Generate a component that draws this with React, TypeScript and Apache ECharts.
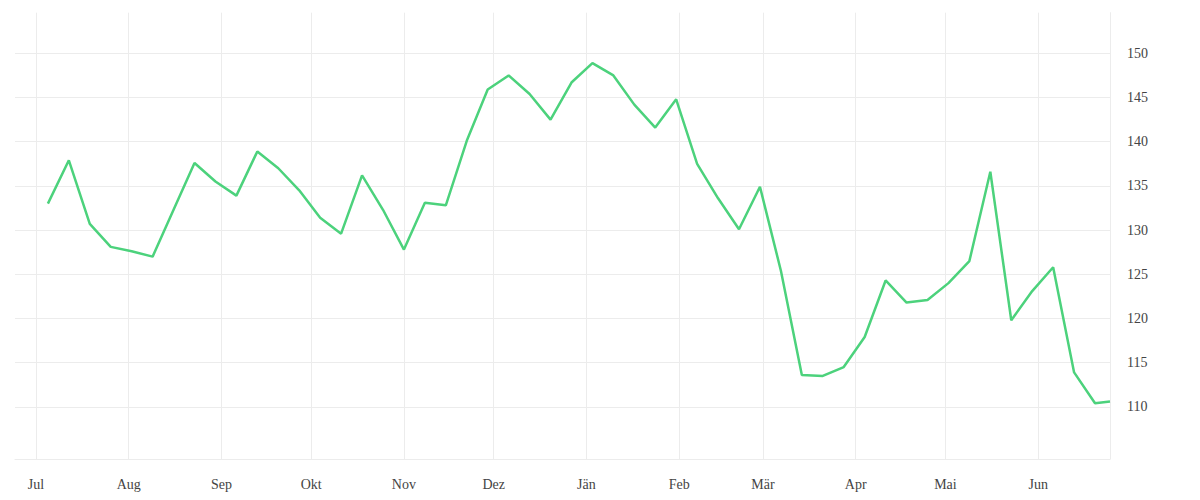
import React, { useEffect, useRef } from "react";
import * as echarts from "echarts";

const dates = [
  "2018-07-05", "2018-07-12", "2018-07-19", "2018-07-26",
  "2018-08-02", "2018-08-09", "2018-08-16", "2018-08-23", "2018-08-30",
  "2018-09-06", "2018-09-13", "2018-09-20", "2018-09-27",
  "2018-10-04", "2018-10-11", "2018-10-18", "2018-10-25",
  "2018-11-01", "2018-11-08", "2018-11-15", "2018-11-22", "2018-11-29",
  "2018-12-06", "2018-12-13", "2018-12-20", "2018-12-27",
  "2019-01-03", "2019-01-10", "2019-01-17", "2019-01-24", "2019-01-31",
  "2019-02-07", "2019-02-14", "2019-02-21", "2019-02-28",
  "2019-03-07", "2019-03-14", "2019-03-21", "2019-03-28",
  "2019-04-04", "2019-04-11", "2019-04-18", "2019-04-25",
  "2019-05-02", "2019-05-09", "2019-05-16", "2019-05-23", "2019-05-30",
  "2019-06-06", "2019-06-13", "2019-06-20", "2019-06-25",
];

const values = [
  133.0, 137.9, 130.7, 128.1,
  127.6, 127.0, 132.3, 137.6, 135.5,
  133.9, 138.9, 137.0, 134.5,
  131.4, 129.6, 136.2, 132.3,
  127.8, 133.1, 132.8, 140.1, 145.9,
  147.5, 145.4, 142.5, 146.7,
  148.9, 147.5, 144.2, 141.6, 144.8,
  137.5, 133.6, 130.1, 134.9,
  125.4, 113.6, 113.5, 114.5,
  117.9, 124.3, 121.8, 122.1,
  124.0, 126.5, 136.6, 119.8, 123.1,
  125.8, 113.9, 110.4, 110.6,
];

const monthLabels = ["Jän", "Feb", "Mär", "Apr", "Mai", "Jun", "Jul", "Aug", "Sep", "Okt", "Nov", "Dez"];
const yTickLabels = [110, 115, 120, 125, 130, 135, 140, 145, 150];

const xMin = "2018-06-24";
const xMax = "2019-06-25";
const yMin = 104.1;
const yMax = 154.6;

const FONT = "Liberation Serif";
const GRID_COLOR = "#ececec";

export default function App() {
  const ref = useRef<HTMLDivElement>(null);

  useEffect(() => {
    if (!ref.current) return;
    const chart = echarts.init(ref.current, null, { renderer: "svg" });
    const splitColors = ["rgba(0,0,0,0)"].concat(yTickLabels.map(() => GRID_COLOR));
    chart.setOption({
      animation: false,
      backgroundColor: "#ffffff",
      grid: { left: 15, right: 90, top: 12.7, bottom: 41, containLabel: false },
      xAxis: {
        type: "time",
        min: xMin,
        max: xMax,
        splitNumber: 12,
        axisLine: { show: true, lineStyle: { color: GRID_COLOR, width: 1 } },
        axisTick: { show: false },
        splitLine: {
          show: true,
          showMinLine: false,
          showMaxLine: false,
          lineStyle: { color: GRID_COLOR, width: 1 },
        },
        axisLabel: {
          showMinLabel: false,
          showMaxLabel: false,
          margin: 18,
          fontFamily: FONT,
          fontSize: 14,
          color: "#444",
          hideOverlap: false,
          formatter: (v: number) => {
            const d = new Date(v);
            return d.getDate() === 1 ? monthLabels[d.getMonth()] : "";
          },
        },
      },
      yAxis: {
        type: "value",
        position: "right",
        min: yMin,
        max: yMax,
        minInterval: 5,
        maxInterval: 5,
        axisLine: { show: true, lineStyle: { color: GRID_COLOR, width: 1 } },
        axisTick: { show: false },
        splitLine: {
          show: true,
          showMinLine: false,
          showMaxLine: false,
          lineStyle: { color: splitColors, width: 1 },
        },
        axisLabel: {
          showMinLabel: false,
          showMaxLabel: false,
          margin: 17,
          fontFamily: FONT,
          fontSize: 14,
          color: "#444",
          formatter: (v: number) => (yTickLabels.indexOf(v) >= 0 ? String(v) : ""),
        },
      },
      series: [
        {
          type: "line",
          data: dates.map((d, i) => [d, values[i]]),
          showSymbol: false,
          symbol: "none",
          lineStyle: { color: "#4cd27c", width: 2.5 },
          itemStyle: { color: "#4cd27c" },
        },
      ],
    });
    return () => chart.dispose();
  }, []);

  return (
    <div
      ref={ref}
      style={{ position: "absolute", left: 0, top: 0, width: 1200, height: 500 }}
    />
  );
}
